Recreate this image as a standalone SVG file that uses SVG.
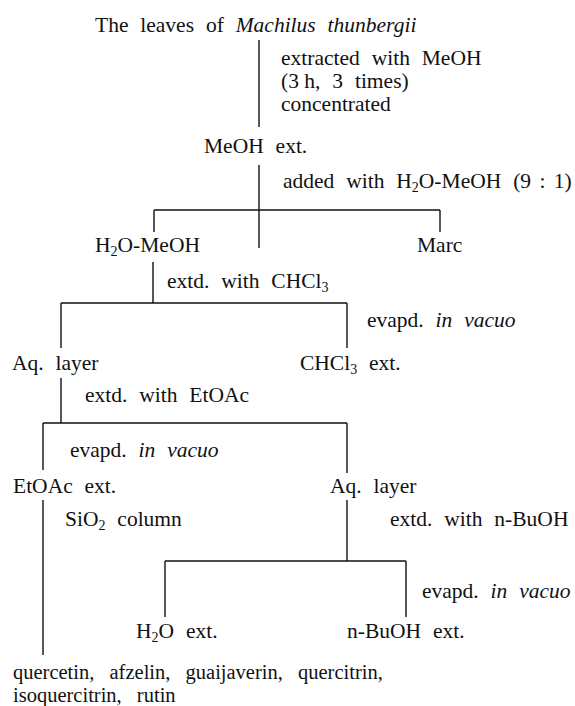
<svg xmlns="http://www.w3.org/2000/svg" width="575" height="706" viewBox="0 0 575 706">
<style>
text{font-family:"Liberation Serif","Times New Roman",serif;font-size:21.5px;word-spacing:6.5px;fill:#111}
.i{font-style:italic}
.s{font-size:14px}
.p{font-size:20.5px;word-spacing:10px}
#connectors path{stroke:#111;stroke-width:1.4;fill:none}
</style>
<rect width="575" height="706" fill="#fff"/>
<g id="connectors">
<path d="M259 40V127"/>
<path d="M259 165V248"/>
<path d="M154 210H440M154 210V232M440 210V232"/>
<path d="M153 262V303"/>
<path d="M61 303H347M61 303V348M347 303V348"/>
<path d="M61 378V423"/>
<path d="M43 423H347M43 423V470M347 423V473"/>
<path d="M43 500V655"/>
<path d="M347 500V561"/>
<path d="M165 561H406M165 561V617M406 561V617"/>
</g>
<g id="n_leaves"><text x="95" y="32">The leaves of <tspan class="i">Machilus thunbergii</tspan></text></g>
<g id="l_extract"><text x="281" y="65">extracted with MeOH</text><text x="281" y="88"><tspan style="word-spacing:0">(3 h,</tspan> 3 times)</text><text x="281" y="111">concentrated</text></g>
<g id="n_meoh"><text x="204" y="153">MeOH ext.</text></g>
<g id="l_added"><text x="283" y="188">added with H<tspan class="s" dy="4">2</tspan><tspan dy="-4">O-MeOH </tspan><tspan style="word-spacing:3px">(9 : 1)</tspan></text></g>
<g id="n_h2omeoh"><text x="95" y="252">H<tspan class="s" dy="4">2</tspan><tspan dy="-4">O-MeOH</tspan></text></g>
<g id="n_marc"><text x="417" y="252">Marc</text></g>
<g id="l_chcl3"><text x="167" y="288">extd. with CHCl<tspan class="s" dy="4">3</tspan></text></g>
<g id="l_evap1"><text x="367" y="327">evapd. <tspan class="i">in vacuo</tspan></text></g>
<g id="n_aq1"><text x="12" y="370">Aq. layer</text></g>
<g id="n_chcl3ext"><text x="300" y="370">CHCl<tspan class="s" dy="4">3</tspan><tspan dy="-4"> ext.</tspan></text></g>
<g id="l_etoac"><text x="85" y="402">extd. with EtOAc</text></g>
<g id="l_evap2"><text x="70" y="457">evapd. <tspan class="i">in vacuo</tspan></text></g>
<g id="n_etoacext"><text x="13" y="493">EtOAc ext.</text></g>
<g id="n_aq2"><text x="330" y="493">Aq. layer</text></g>
<g id="l_sio2"><text x="65" y="526">SiO<tspan class="s" dy="4">2</tspan><tspan dy="-4"> column</tspan></text></g>
<g id="l_buoh"><text x="390" y="526">extd. with n-BuOH</text></g>
<g id="l_evap3"><text x="422" y="598">evapd. <tspan class="i">in vacuo</tspan></text></g>
<g id="n_h2oext"><text x="136" y="638">H<tspan class="s" dy="4">2</tspan><tspan dy="-4">O ext.</tspan></text></g>
<g id="n_buohext"><text x="347" y="638">n-BuOH ext.</text></g>
<g id="n_products"><text class="p" x="13" y="678.5">quercetin, afzelin, guaijaverin, quercitrin,</text><text class="p" x="13" y="701.5">isoquercitrin, rutin</text></g>
</svg>
